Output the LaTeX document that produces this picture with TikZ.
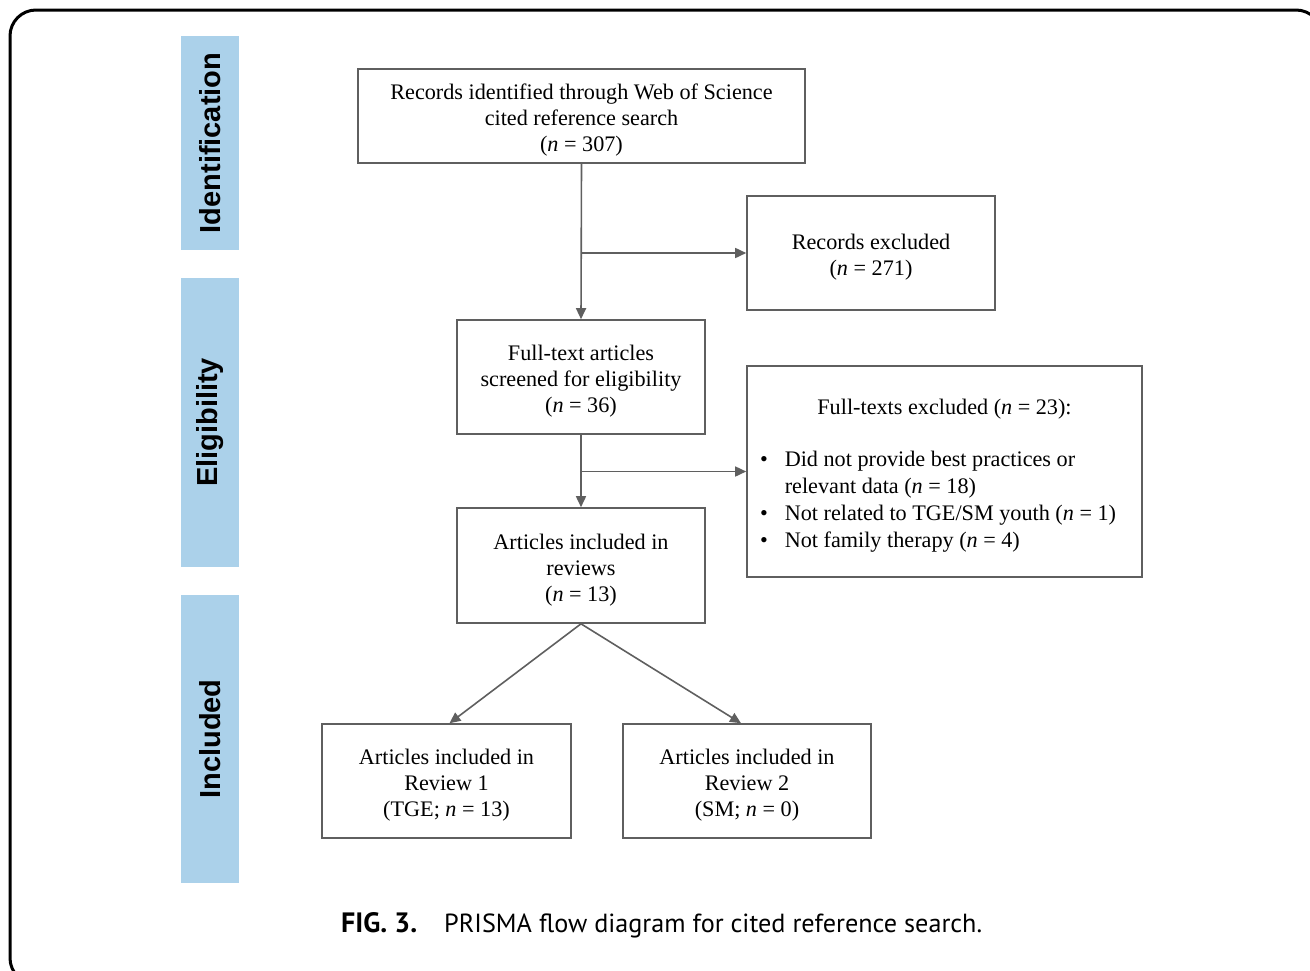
\documentclass[tikz,border=0pt]{standalone}
\usepackage{fontspec}
\setmainfont{Liberation Serif}
\newfontfamily\sidefont{Liberation Sans}
\newfontfamily\capfont{PT Sans}
\usetikzlibrary{arrows.meta}
\definecolor{barblue}{RGB}{171,209,234}
\definecolor{linegray}{RGB}{95,95,95}
\newcommand\tstrut{\rule{0pt}{24.5pt}}
\tikzset{
  flowbox/.style={draw=linegray, line width=1.6pt, inner sep=0pt, align=center,
    font=\fontsize{22.2}{26}\selectfont},
  sidebar/.style={fill=barblue, inner sep=0pt, minimum width=58pt},
  sidelabel/.style={rotate=90, font=\sidefont\bfseries\fontsize{29}{30}\selectfont},
  flowarrow/.style={draw=linegray, line width=1.6pt, -{Triangle[length=11pt,width=10pt]}},
}
\begin{document}
\begin{tikzpicture}[x=1pt,y=-1pt]
\useasboundingbox (0,0) rectangle (1310,970);
\clip (0,0) rectangle (1310,970);
\draw[line width=3pt, rounded corners=26pt] (10,10) rectangle (1322,984);

% side bars
\node[sidebar, minimum height=214pt] (barI) at (210,143) {};
\node[sidebar, minimum height=289pt] (barE) at (210,422.5) {};
\node[sidebar, minimum height=288pt] (barN) at (210,739) {};
\node[sidelabel] (labI) at (barI.center) {Identification};
\node[sidelabel] (labE) at (barE.center) {Eligibility};
\node[sidelabel] (labN) at (barN.center) {Included};

% boxes
\node[flowbox, minimum width=447pt, minimum height=94pt] (rec) at (581.5,116)
  {\tstrut Records identified through Web of Science\\cited reference search\\(\textit{n} = 307)};
\node[flowbox, minimum width=248pt, minimum height=114pt] (recex) at (871,253)
  {\tstrut Records excluded\\(\textit{n} = 271)};
\node[flowbox, minimum width=248pt, minimum height=114pt] (full) at (581,377)
  {\tstrut Full-text articles\\screened for eligibility\\(\textit{n} = 36)};
\node[flowbox, minimum width=395pt, minimum height=211pt, align=left] (fullex) at (944.5,471.5)
  {\begin{minipage}{385pt}\fontsize{22.2}{27.3}\selectfont
   \vspace*{12pt}
   \centering Full-texts excluded (\textit{n} = 23):\par\vspace{27pt}
   \raggedright\hspace*{8pt}%
   \begin{tabular}{@{}l@{\hspace{17pt}}l@{}}
   \textbullet & Did not provide best practices or\\
               & relevant data (\textit{n} = 18)\\
   \textbullet & Not related to TGE/SM youth (\textit{n} = 1)\\
   \textbullet & Not family therapy (\textit{n} = 4)
   \end{tabular}
   \end{minipage}};
\node[flowbox, minimum width=248pt, minimum height=115pt] (incl) at (581,565.5)
  {\tstrut Articles included in\\reviews\\(\textit{n} = 13)};
\node[flowbox, minimum width=249pt, minimum height=114pt] (rev1) at (446.5,781)
  {\tstrut Articles included in\\Review 1\\(TGE; \textit{n} = 13)};
\node[flowbox, minimum width=248pt, minimum height=114pt] (rev2) at (747,781)
  {\tstrut Articles included in\\Review 2\\(SM; \textit{n} = 0)};

% connectors
\draw[flowarrow] (rec.south) -- (full.north);
\coordinate (j1) at (rec.south |- recex.west);
\draw[flowarrow] (j1) -- (recex.west);
\draw[flowarrow] (full.south) -- (incl.north);
\coordinate (j2) at (full.south |- fullex.west);
\draw[flowarrow] (j2) -- (fullex.west);
\draw[flowarrow] (incl.south) -- ([xshift=3pt]rev1.north);
\draw[flowarrow] (incl.south) -- ([xshift=-6pt]rev2.north);

% caption
\node[anchor=base west, inner sep=0pt, font=\capfont\bfseries\fontsize{28}{30}\selectfont] (figl) at (341,932) {FIG. 3.};
\node[anchor=base west, inner sep=0pt, font=\capfont\fontsize{26.2}{30}\selectfont] (figt) at (444,932) {PRISMA flow diagram for cited reference search.};
\end{tikzpicture}
\end{document}
